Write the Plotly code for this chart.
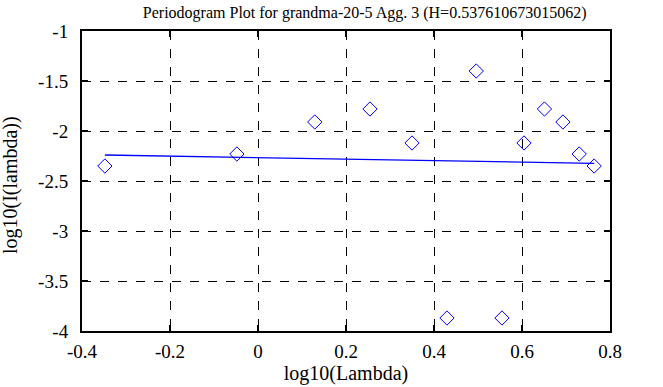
import plotly.graph_objects as go

# Data
log_lambda = [-0.348, -0.048, 0.129, 0.2545, 0.350, 0.4295, 0.496,
              0.5545, 0.6045, 0.651, 0.693, 0.730, 0.764]
log_I = [-2.35, -2.23, -1.91, -1.78, -2.12, -3.87, -1.40,
         -3.87, -2.12, -1.78, -1.91, -2.23, -2.35]
fit_x = [-0.348, 0.764]
fit_y = [-2.240, -2.323]

title_text = "Periodogram Plot for grandma-20-5 Agg. 3 (H=0.537610673015062)"
x_title = "log10(Lambda)"
y_title = "log10(I(lambda))"
x_ticks = [-0.4, -0.2, 0, 0.2, 0.4, 0.6, 0.8]
x_tick_labels = ["-0.4", "-0.2", "0", "0.2", "0.4", "0.6", "0.8"]
y_ticks = [-4, -3.5, -3, -2.5, -2, -1.5, -1]
y_tick_labels = ["-4", "-3.5", "-3", "-2.5", "-2", "-1.5", "-1"]

FONT = "Liberation Serif"

fig = go.Figure()
fig.add_trace(go.Scatter(
    x=log_lambda, y=log_I, mode="markers",
    marker=dict(symbol="diamond-open", size=11, color="#0000ff",
                line=dict(width=1, color="#0000ff")),
    showlegend=False, hoverinfo="x+y"))
fig.add_trace(go.Scatter(
    x=fit_x, y=fit_y, mode="lines",
    line=dict(color="#0000ff", width=1.3),
    showlegend=False))

axis_common = dict(
    showline=True, linecolor="black", linewidth=2, mirror="ticks",
    ticks="inside", ticklen=6, tickwidth=2, tickcolor="black",
    showgrid=True, gridcolor="black", gridwidth=1, griddash="dash",
    zeroline=False, automargin=False,
    tickfont=dict(family=FONT, size=19, color="black"),
)

fig.update_xaxes(range=[-0.4, 0.8], tickvals=x_ticks, ticktext=x_tick_labels,
                 ticklabelstandoff=2,
                 title=dict(text=x_title, standoff=5,
                            font=dict(family=FONT, size=20, color="black")),
                 **axis_common)
fig.update_yaxes(range=[-4, -1], tickvals=y_ticks, ticktext=y_tick_labels,
                 ticklabelstandoff=8,
                 **axis_common)

fig.add_annotation(text=y_title, textangle=-90, showarrow=False,
                   xref="paper", yref="paper", x=-0.1353, y=0.485,
                   xanchor="center", yanchor="middle",
                   font=dict(family=FONT, size=20, color="black"))

fig.update_layout(
    width=663, height=387,
    margin=dict(l=82, r=53, t=31, b=56),
    paper_bgcolor="white", plot_bgcolor="white",
    title=dict(text=title_text, x=0.55, xanchor="center", y=0.969, yanchor="middle",
               font=dict(family=FONT, size=16, color="black")),
    font=dict(family=FONT, color="black"),
)

fig.write_html("out.html", config={"displayModeBar": False},
               post_script="document.body.style.margin='0';document.body.style.overflow='hidden';")
